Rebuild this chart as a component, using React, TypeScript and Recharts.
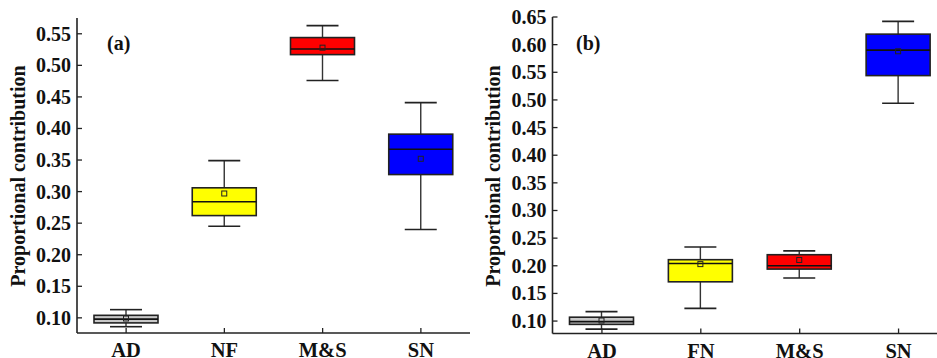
import React from "react";
import { ComposedChart, Bar, XAxis, YAxis } from "recharts";

// Panel (a)
const categoriesA = ["AD", "NF", "M&S", "SN"];
const lowA = [0.086, 0.245, 0.476, 0.24];
const q1A = [0.092, 0.262, 0.517, 0.327];
const medianA = [0.098, 0.284, 0.526, 0.367];
const q3A = [0.104, 0.306, 0.544, 0.391];
const highA = [0.113, 0.349, 0.563, 0.441];
const meanA = [0.099, 0.297, 0.528, 0.352];
const ticksA = [0.1, 0.15, 0.2, 0.25, 0.3, 0.35, 0.4, 0.45, 0.5, 0.55];

// Panel (b)
const categoriesB = ["AD", "FN", "M&S", "SN"];
const lowB = [0.0855, 0.123, 0.178, 0.494];
const q1B = [0.094, 0.171, 0.194, 0.544];
const medianB = [0.099, 0.204, 0.2, 0.59];
const q3B = [0.107, 0.211, 0.22, 0.619];
const highB = [0.117, 0.234, 0.227, 0.642];
const meanB = [0.101, 0.203, 0.2105, 0.588];
const ticksB = [0.1, 0.15, 0.2, 0.25, 0.3, 0.35, 0.4, 0.45, 0.5, 0.55, 0.6, 0.65];

const boxColors = ["#c8c8c8", "#ffff00", "#ff0000", "#0000ff"];

const FONT = "'Liberation Serif', 'Times New Roman', serif";

function buildRows(cats: string[], low: number[], q1: number[], med: number[], q3: number[], high: number[], mean: number[]) {
  return cats.map((name, i) => ({
    name,
    range: [low[i], high[i]],
    low: low[i],
    q1: q1[i],
    median: med[i],
    q3: q3[i],
    high: high[i],
    mean: mean[i],
    color: boxColors[i],
  }));
}

// box drawn inside the whisker range bar, mapped through the bar's own pixel span
const BoxShape = (props: any) => {
  const { x, y, width, height, payload } = props;
  const top = Math.min(y, y + height);
  const h = Math.abs(height);
  const span = payload.high - payload.low;
  const py = (v: number) => top + (h * (payload.high - v)) / span;
  const cx = x + width / 2;
  const cap = width / 2;
  const yQ1 = py(payload.q1);
  const yQ3 = py(payload.q3);
  const yMed = py(payload.median);
  const yMean = py(payload.mean);
  return (
    <g>
      <line x1={cx} x2={cx} y1={py(payload.high)} y2={yQ3} stroke="#333" strokeWidth={1.4} />
      <line x1={cx} x2={cx} y1={yQ1} y2={py(payload.low)} stroke="#333" strokeWidth={1.4} />
      <line x1={cx - cap / 2} x2={cx + cap / 2} y1={py(payload.high)} y2={py(payload.high)} stroke="#222" strokeWidth={1.6} />
      <line x1={cx - cap / 2} x2={cx + cap / 2} y1={py(payload.low)} y2={py(payload.low)} stroke="#222" strokeWidth={1.6} />
      <rect x={x} y={yQ3} width={width} height={yQ1 - yQ3} fill={payload.color} stroke="#222" strokeWidth={1.6} />
      <line x1={x} x2={x + width} y1={yMed} y2={yMed} stroke="#111" strokeWidth={1.6} />
      <rect x={cx - 2.5} y={yMean - 2.5} width={5} height={5} fill="none" stroke="#222" strokeWidth={1} />
    </g>
  );
};

const YTick = (props: any) => {
  const { x, y, payload } = props;
  return (
    <g>
      <line x1={x} x2={x + 5} y1={y} y2={y} stroke="#222" strokeWidth={1.3} />
      <text x={x - 6} y={y} dy="0.35em" textAnchor="end" fontFamily={FONT} fontWeight="bold" fontSize={20} fill="#111">
        {Number(payload.value).toFixed(2)}
      </text>
    </g>
  );
};

const XTick = (props: any) => {
  const { x, y, payload } = props;
  return (
    <g>
      <line x1={x} x2={x} y1={y} y2={y - 5} stroke="#222" strokeWidth={1.3} />
      <text x={x} y={y + 24} textAnchor="middle" fontFamily={FONT} fontWeight="bold" fontSize={20.5} fill="#111">
        {payload.value}
      </text>
    </g>
  );
};

type PanelProps = {
  rows: any[];
  domain: [number, number];
  ticks: number[];
  width: number;
  yAxisWidth: number;
  marginRight: number;
  top: number;
  bottom: number;
};

function Panel({ rows, domain, ticks, width, yAxisWidth, marginRight, top, bottom }: PanelProps) {
  return (
    <ComposedChart
      width={width}
      height={358}
      data={rows}
      margin={{ top, right: marginRight, left: 0, bottom: 0 }}
      barSize={64}
    >
      <XAxis
        dataKey="name"
        height={358 - bottom}
        tickLine={false}
        tickSize={0}
        tickMargin={0}
        tick={<XTick />}
        axisLine={{ stroke: "#222", strokeWidth: 1.6 }}
        interval={0}
      />
      <XAxis xAxisId="top" dataKey="name" orientation="top" height={0} tick={false} tickLine={false} axisLine={{ stroke: "#777", strokeWidth: 1.4 }} />
      <YAxis
        type="number"
        domain={domain}
        ticks={ticks}
        width={yAxisWidth}
        tickLine={false}
        tickSize={0}
        tickMargin={0}
        tick={<YTick />}
        axisLine={{ stroke: "#222", strokeWidth: 1.6 }}
        allowDataOverflow
      />
      <YAxis yAxisId="right" orientation="right" width={0} domain={domain} tick={false} tickLine={false} axisLine={{ stroke: "#888", strokeWidth: 1.4 }} />
      <Bar dataKey="range" shape={<BoxShape />} isAnimationActive={false} />
    </ComposedChart>
  );
}

const dataA = buildRows(categoriesA, lowA, q1A, medianA, q3A, highA, meanA);
const dataB = buildRows(categoriesB, lowB, q1B, medianB, q3B, highB, meanB);

export default function App() {
  return (
    <div style={{ position: "absolute", left: 0, top: 0, width: 937, height: 358, overflow: "hidden", background: "#fff" }}>
      <div style={{ position: "absolute", left: 0, top: 0 }}>
        <Panel rows={dataA} domain={[0.076, 0.575]} ticks={ticksA} width={475} yAxisWidth={77} marginRight={5} top={18} bottom={333} />
      </div>
      <div style={{ position: "absolute", left: 470, top: 0 }}>
        <Panel rows={dataB} domain={[0.0775, 0.65]} ticks={ticksB} width={490} yAxisWidth={82.5} marginRight={12} top={17} bottom={333.5} />
      </div>
      <svg width={937} height={358} style={{ position: "absolute", left: 0, top: 0, pointerEvents: "none" }}>
        <text x={107} y={50} fontFamily={FONT} fontWeight="bold" fontSize={20} fill="#111">(a)</text>
        <text x={576} y={50} fontFamily={FONT} fontWeight="bold" fontSize={20} fill="#111">(b)</text>
        <text transform="translate(25,176) rotate(-90)" textAnchor="middle" fontFamily={FONT} fontWeight="bold" fontSize={20} fill="#111">
          Proportional contribution
        </text>
        <text transform="translate(500,176) rotate(-90)" textAnchor="middle" fontFamily={FONT} fontWeight="bold" fontSize={20} fill="#111">
          Proportional contribution
        </text>
      </svg>
    </div>
  );
}
